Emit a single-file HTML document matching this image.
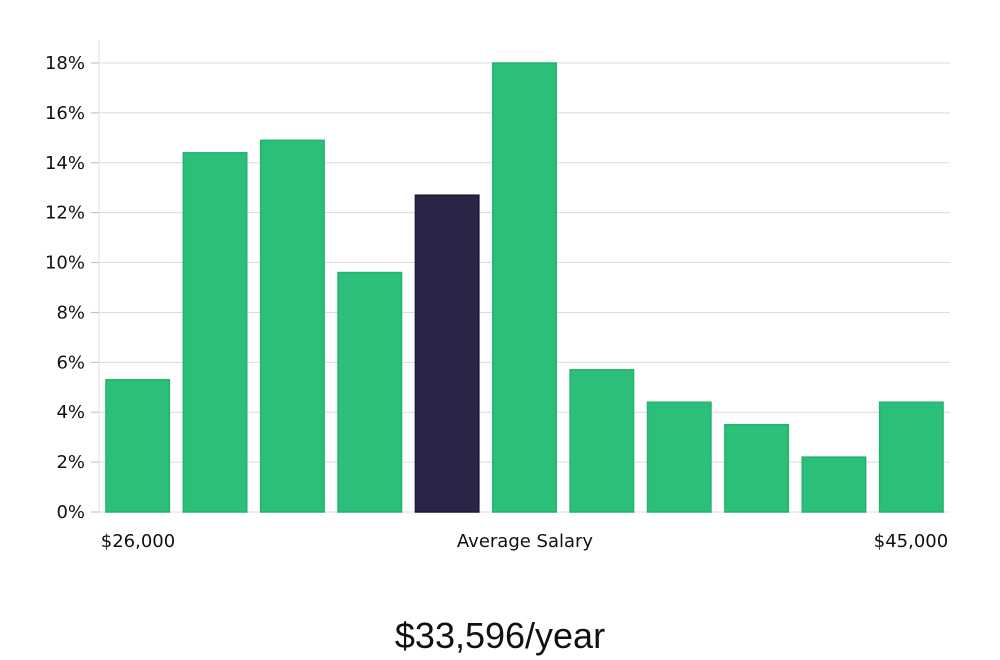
<!DOCTYPE html>
<html><head><meta charset="utf-8"><style>
body{margin:0;background:#fff;width:1000px;height:660px;overflow:hidden;font-family:"DejaVu Sans","Liberation Sans",sans-serif}
svg{display:block}
</style></head><body>
<svg id="chart" width="1000" height="660">
<g id="grid"></g>
<g id="bars"></g>
<g id="yaxis"></g>
<text x="138" y="547" font-size="18" text-anchor="middle" fill="#111">$26,000</text>
<text x="525" y="547" font-size="18" text-anchor="middle" fill="#111">Average Salary</text>
<text x="911" y="547" font-size="18" text-anchor="middle" fill="#111">$45,000</text>
<text x="500" y="648" font-size="36" text-anchor="middle" fill="#111" font-family="Liberation Sans, sans-serif">$33,596/year</text>
</svg>
<script>
const categories=["b1","b2","b3","b4","b5","b6","b7","b8","b9","b10","b11"];
const values=[5.3,14.4,14.9,9.6,12.7,18.0,5.7,4.4,3.5,2.2,4.4];
const highlight=[false,false,false,false,true,false,false,false,false,false,false];
const yTicks=[0,2,4,6,8,10,12,14,16,18];
const NS="http://www.w3.org/2000/svg";
const x0=99,x1=950,y0=512,y18=63;
const y=v=>y0-(v/18)*(y0-y18);
const band=(x1-x0)/categories.length;
const bw=band*0.82;
const grid=document.getElementById('grid'),bars=document.getElementById('bars'),ya=document.getElementById('yaxis');
function mk(t,a,p){const e=document.createElementNS(NS,t);for(const k in a)e.setAttribute(k,a[k]);p.appendChild(e);return e;}
yTicks.forEach(t=>{
 const l=mk('line',{x1:x0,x2:x1,y1:y(t),y2:y(t),stroke:'#dcdcdc','stroke-width':1},grid);
 
 
 const tk=mk('line',{x1:x0-8,x2:x0,y1:y(t),y2:y(t),stroke:'#bbb','stroke-width':1},ya);
 
 
 const tx=mk('text',{x:x0-14,y:y(t)+6,'font-size':18,'text-anchor':'end',fill:'#111'},ya);
 tx.textContent=t+'%';
 
 
});
const ax=mk('line',{x1:x0,x2:x0,y1:40,y2:y0,stroke:'#ddd','stroke-width':1},ya);


values.forEach((v,i)=>{
 const bx=x0+band*i+(band-bw)/2;
 const r=mk('rect',{x:bx,y:y(v),width:bw,height:y0-y(v),fill:highlight[i]?'#2a2547':'#2bbf79',stroke:highlight[i]?'#1c1838':'#22b36e','stroke-width':1.5},bars);
 
 
});
</script>
</body></html>
